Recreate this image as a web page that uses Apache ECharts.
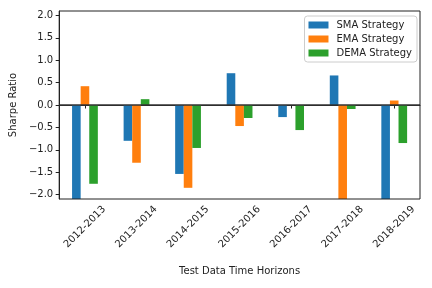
<!DOCTYPE html>
<html><head><meta charset="utf-8">
<script src="https://cdn.jsdelivr.net/npm/echarts@6/dist/echarts.min.js"></script>
<style>html,body{margin:0;padding:0;background:#fff}#c{width:432px;height:288px}</style>
</head><body><div id="c"></div>
<script>
const categories = ['2012-2013','2013-2014','2014-2015','2015-2016','2016-2017','2017-2018','2018-2019'];
const smaValues  = [-2.5, -0.80, -1.54, 0.71, -0.27, 0.66, -2.4];
const emaValues  = [0.42, -1.29, -1.85, -0.47, null, -2.6, 0.10];
const demaValues = [-1.76, 0.13, -0.96, -0.29, -0.56, -0.09, -0.85];
const seriesNames = ['SMA Strategy','EMA Strategy','DEMA Strategy'];
const yTicks = [-2.0,-1.5,-1.0,-0.5,0.0,0.5,1.0,1.5,2.0];

const colors = ['#1f77b4','#ff7f0e','#2ca02c'];
const font = 'DejaVu Sans';
const chart = echarts.init(document.getElementById('c'), null, {renderer:'canvas'});
const mk = (name, data, i) => ({
  name, type:'bar', data, barWidth:'16.67%', barGap:'0%', clip:true,
  itemStyle:{color:colors[i]}, z: 2
});
const s = [mk(seriesNames[0], smaValues, 0), mk(seriesNames[1], emaValues, 1), mk(seriesNames[2], demaValues, 2)];
s[0].markLine = {silent:true, symbol:'none', label:{show:false},
  lineStyle:{color:'#333', width:1.6, type:'solid'}, data:[{yAxis:0}], z:5};
chart.setOption({
  animation:false,
  textStyle:{fontFamily:font},
  grid:{left:56, right:12, top:11, bottom:89, show:true, borderColor:'#222', borderWidth:1, backgroundColor:'transparent', z:10},
  legend:{
    top:16, right:15, orient:'vertical', itemWidth:20, itemHeight:7, itemGap:4,
    icon:'rect', backgroundColor:'rgba(255,255,255,0.8)', borderColor:'#ccc', borderWidth:1, borderRadius:3,
    padding:[4,5,4,4],
    textStyle:{fontFamily:font, fontSize:10, color:'#222', padding:[0,0,0,3]},
    data: seriesNames
  },
  xAxis:{
    type:'category', data:categories,
    name:'Test Data Time Horizons', nameLocation:'middle', nameGap:67,
    nameTextStyle:{fontFamily:font, fontSize:10, color:'#222'},
    axisLine:{show:true, lineStyle:{color:'#222'}},
    axisTick:{show:true, alignWithLabel:true, length:3.5, lineStyle:{color:'#222'}},
    axisLabel:{rotate:45, align:'center', verticalAlign:'middle', fontFamily:font, fontSize:10, color:'#222', margin:28, interval:0},
    splitLine:{show:false}
  },
  yAxis:{
    type:'value', min:-2.1, max:2.1,
    name:'Sharpe Ratio', nameLocation:'middle', nameGap:36, nameRotate:90,
    nameTextStyle:{fontFamily:font, fontSize:10, color:'#222'},
    axisLine:{show:true, lineStyle:{color:'#222'}},
    axisTick:{show:true, length:3.5, lineStyle:{color:'#222'}, customValues:yTicks},
    axisLabel:{fontFamily:font, fontSize:10, color:'#222', margin:6, customValues:yTicks,
      formatter:v => (v<0?'\u2212':'') + Math.abs(v).toFixed(1)},
    splitLine:{show:false}
  },
  series:s
});
</script></body></html>
